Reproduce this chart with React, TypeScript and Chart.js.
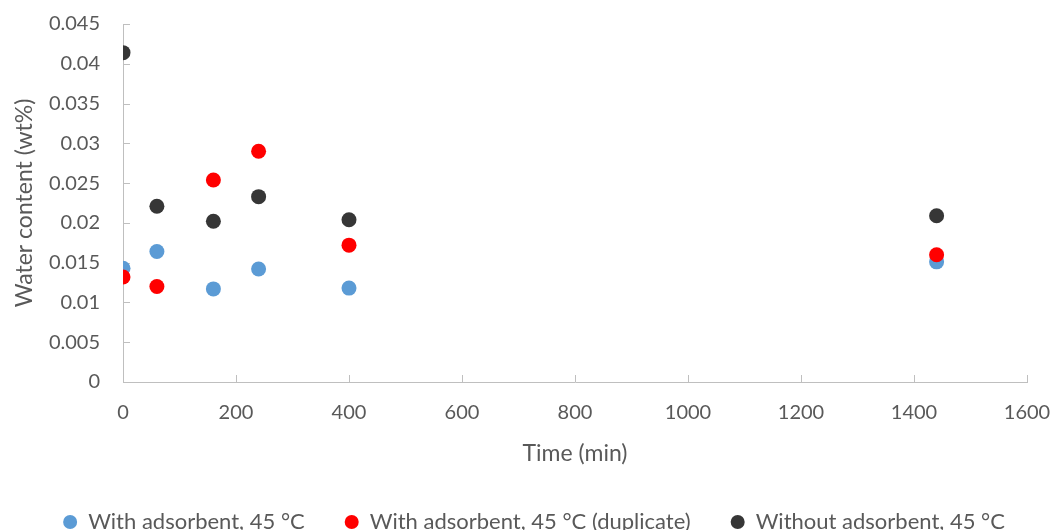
import React, { useEffect, useRef } from "react";
import { Chart, registerables } from "chart.js";

Chart.register(...registerables);

// Sampling times (min)
const TIMES = [0, 60, 160, 240, 400, 1440];

// Water content (wt%) per series
const WITH_ADSORBENT = [0.0143, 0.0164, 0.0117, 0.0142, 0.0118, 0.0151];
const WITH_ADSORBENT_DUP = [0.0132, 0.012, 0.0254, 0.029, 0.0172, 0.016];
const WITHOUT_ADSORBENT = [0.0414, 0.0221, 0.0202, 0.0233, 0.0204, 0.0209];

const SERIES_LABELS = [
  "With adsorbent, 45 °C",
  "With adsorbent, 45 °C (duplicate)",
  "Without adsorbent, 45 °C",
];

// Axis ticks
const X_TICKS = [0, 200, 400, 600, 800, 1000, 1200, 1400, 1600];
const Y_TICKS = [0, 0.005, 0.01, 0.015, 0.02, 0.025, 0.03, 0.035, 0.04, 0.045];

const X_TITLE = "Time (min)";
const Y_TITLE = "Water content (wt%)";

const FONT_FAMILY = "Lato, 'Open Sans', sans-serif";
const TEXT_COLOR = "#595959";
const AXIS_COLOR = "#BFBFBF";
const TICK_LEN = 7;
const PAD_LEFT = 14;

const toPoints = (ys: number[]) => TIMES.map((t, i) => ({ x: t, y: ys[i] }));

// Short tick marks pointing into the plot area, as in spreadsheet charts
const innerTicks = {
  id: "innerTicks",
  beforeDatasetsDraw(chart: any) {
    const { ctx, chartArea, scales } = chart;
    const xs = scales.x;
    const ys = scales.y;
    ctx.save();
    ctx.strokeStyle = AXIS_COLOR;
    ctx.lineWidth = 1;
    ctx.beginPath();
    xs.ticks.forEach((_: any, i: number) => {
      const px = Math.round(xs.getPixelForTick(i)) + 0.5;
      ctx.moveTo(px, chartArea.bottom);
      ctx.lineTo(px, chartArea.bottom - TICK_LEN);
    });
    ys.ticks.forEach((_: any, i: number) => {
      const py = Math.round(ys.getPixelForTick(i)) + 0.5;
      ctx.moveTo(chartArea.left, py);
      ctx.lineTo(chartArea.left + TICK_LEN, py);
    });
    ctx.stroke();
    ctx.restore();
  },
};

export default function App() {
  const canvasRef = useRef<HTMLCanvasElement | null>(null);

  useEffect(() => {
    const canvas = canvasRef.current;
    if (!canvas) return;

    const point = (color: string, order: number, label: string, ys: number[]) => ({
      label,
      data: toPoints(ys),
      order,
      showLine: false,
      backgroundColor: color,
      borderColor: color,
      borderWidth: 0,
      pointRadius: 7.5,
      pointHoverRadius: 7.5,
      pointStyle: "circle",
    });

    const chart = new Chart(canvas, {
      type: "scatter",
      data: {
        datasets: [
          point("#5B9BD5", 2, SERIES_LABELS[0], WITH_ADSORBENT),
          point("#FF0000", 0, SERIES_LABELS[1], WITH_ADSORBENT_DUP),
          point("#363636", 1, SERIES_LABELS[2], WITHOUT_ADSORBENT),
        ],
      },
      options: {
        responsive: false,
        animation: false,
        devicePixelRatio: 1,
        layout: { padding: { top: 24, left: PAD_LEFT, right: 0, bottom: -13 } },
        plugins: {
          tooltip: { enabled: false },
          legend: {
            position: "bottom",
            labels: {
              usePointStyle: true,
              pointStyle: "circle",
              boxHeight: 10,
              pointStyleWidth: 14,
              padding: 40,
              color: TEXT_COLOR,
              font: { family: FONT_FAMILY, size: 22 },
              sort: (a: any, b: any) => a.datasetIndex - b.datasetIndex,
            },
          },
        },
        scales: {
          x: {
            type: "linear",
            min: 0,
            max: 1600,
            afterBuildTicks: (scale: any) => {
              scale.ticks = X_TICKS.map((v) => ({ value: v }));
            },
            afterFit: (scale: any) => {
              scale.height = 89;
              scale.paddingRight = 27;
              scale.paddingLeft = 0;
            },
            grid: { display: true, drawOnChartArea: false, drawTicks: false },
            border: { display: true, color: AXIS_COLOR, width: 1 },
            ticks: {
              padding: 19,
              color: TEXT_COLOR,
              font: { family: FONT_FAMILY, size: 20 },
              maxRotation: 0,
              callback: (v: any) => String(v),
            },
            title: {
              display: true,
              text: X_TITLE,
              color: TEXT_COLOR,
              font: { family: FONT_FAMILY, size: 23 },
              padding: { top: 0, bottom: 4 },
            },
          },
          y: {
            type: "linear",
            min: 0,
            max: 0.045,
            afterBuildTicks: (scale: any) => {
              scale.ticks = Y_TICKS.map((v) => ({ value: v }));
            },
            afterFit: (scale: any) => {
              scale.width = 123 - PAD_LEFT;
              scale.paddingTop = 0;
              scale.paddingBottom = 0;
            },
            grid: { display: true, drawOnChartArea: false, drawTicks: false },
            border: { display: true, color: AXIS_COLOR, width: 1 },
            ticks: {
              padding: 23,
              color: TEXT_COLOR,
              font: { family: FONT_FAMILY, size: 20 },
              callback: (v: any) => String(+Number(v).toFixed(3)),
            },
            title: {
              display: true,
              text: Y_TITLE,
              color: TEXT_COLOR,
              font: { family: FONT_FAMILY, size: 23 },
              padding: { top: 11 - PAD_LEFT, bottom: 0 },
            },
          },
        },
      },
      plugins: [innerTicks],
    });

    return () => chart.destroy();
  }, []);

  return (
    <div style={{ position: "fixed", left: 0, top: 0, width: 1054, height: 530, background: "#fff" }}>
      <canvas ref={canvasRef} width={1054} height={530} />
    </div>
  );
}
